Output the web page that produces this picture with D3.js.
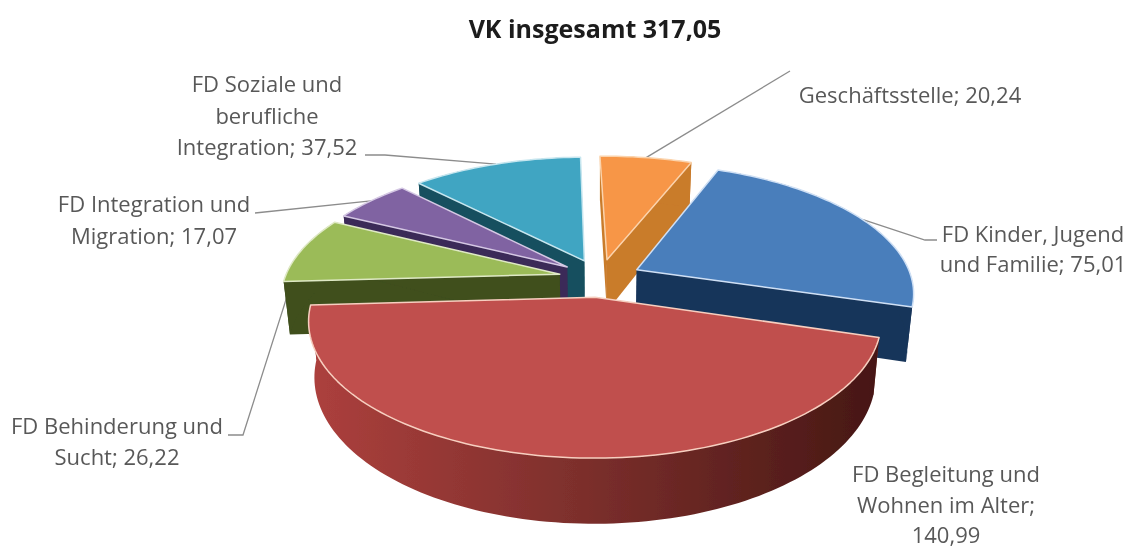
<!DOCTYPE html>
<html>
<head>
<meta charset="utf-8">
<script src="https://cdn.jsdelivr.net/npm/d3@7"></script>
<style>
  html, body { margin: 0; background: #fff; overflow: hidden; }
  text { font-family: "Open Sans", sans-serif; }
</style>
</head>
<body>
<script>
const w = 1132;
const h = 550;

// values
const titleText = "VK insgesamt 317,05";
const categories = [
  "Geschäftsstelle",
  "FD Kinder, Jugend und Familie",
  "FD Begleitung und Wohnen im Alter",
  "FD Behinderung und Sucht",
  "FD Integration und Migration",
  "FD Soziale und berufliche Integration",
];
const values = [20.24, 75.01, 140.99, 26.22, 17.07, 37.52];
const valueLabels = ["20,24", "75,01", "140,99", "26,22", "17,07", "37,52"];

const labelLines = [
  ["Geschäftsstelle; 20,24"],
  ["FD Kinder, Jugend", "und Familie; 75,01"],
  ["FD Begleitung und", "Wohnen im Alter;", "140,99"],
  ["FD Behinderung und", "Sucht; 26,22"],
  ["FD Integration und", "Migration; 17,07"],
  ["FD Soziale und", "berufliche", "Integration; 37,52"],
];

// label centre x, first baseline y, line step
const labelPos = [
  [910, 103, 31],
  [1033, 242, 30],
  [946, 482, 30.5],
  [117, 434, 31],
  [154, 212, 32],
  [267, 92, 31.5],
];
// leader elbows, from slice outwards (null = no leader)
const leaders = [
  [[790, 71]],
  [[925, 240], [937, 240]],
  null,
  [[243, 435], [228, 435]],
  [[255, 213]],
  [[385, 155], [365, 155]],
];

const topColors = ["#f79646", "#4a7ebb", "#c0504d", "#9bbb59", "#8064a2", "#3fa5c2"];
const sideColors = ["#c97b2c", "#19355a", "#7c2f2c", "#3f4f1e", "#3b2a58", "#17505e"];
const edgeColors = ["#fbd3ac", "#cfe0f5", "#f7cfc0", "#dfe9c5", "#d5c8e4", "#c7e6ef"];

// projection of the tilted, exploded disc
const ox = 600;
const oy = 278;
const rx = 275;
const ky = 126.5;
const persp = 0.168;
const depth = 53;
const explode = 0.15;
const startAngle = (-1.5 * Math.PI) / 180;

function project(X, Z, H) {
  const p = 1 / (1 + Z * persp);
  return [
    ox + rx * X * p * (1 - 0.02 * H),
    oy - ky * Z * p + depth * p * H,
  ];
}

const svg = d3.select("body").append("svg").attr("width", w).attr("height", h);

const defs = svg.append("defs");
const grad = defs.append("linearGradient").attr("id", "redWall");
grad.append("stop").attr("offset", "0%").attr("stop-color", "#ad403d");
grad.append("stop").attr("offset", "50%").attr("stop-color", "#7a2e2b");
grad.append("stop").attr("offset", "100%").attr("stop-color", "#461714");
defs.append("filter").attr("id", "soft")
  .append("feGaussianBlur").attr("stdDeviation", 0.45);

const pie = d3.pie().sort(null).value((d) => d)
  .startAngle(startAngle)
  .endAngle(startAngle + 2 * Math.PI);
const slices = pie(values).map((d, i) => {
  const mid = (d.startAngle + d.endAngle) / 2;
  return {
    i,
    a0: d.startAngle,
    a1: d.endAngle,
    mid,
    ex: explode * Math.sin(mid),
    ez: explode * Math.cos(mid),
  };
});

const line = d3.line();

function rim(s, a, H) {
  return project(s.ex + Math.sin(a), s.ez + Math.cos(a), H);
}
function apex(s, H) {
  return project(s.ex, s.ez, H);
}
function arcPts(s, a0, a1, H) {
  const n = Math.max(2, Math.ceil((a1 - a0) * 40));
  return d3.range(n + 1).map((k) => rim(s, a0 + ((a1 - a0) * k) / n, H));
}

// leaders go under the pie, they end behind the slices
const leaderG = svg.append("g").attr("filter", "url(#soft)");
slices.forEach((s) => {
  if (!leaders[s.i]) return;
  const pts = [rim(s, s.mid, 0)].concat(leaders[s.i]);
  leaderG.append("path")
    .attr("d", line(pts))
    .attr("fill", "none")
    .attr("stroke", "#8c8c8c")
    .attr("stroke-width", 1.3);
});

// back to front
const pieG = svg.append("g").attr("filter", "url(#soft)");
const order = slices.slice().sort((a, b) => Math.cos(b.mid) - Math.cos(a.mid));

order.forEach((s) => {
  const g = pieG.append("g");
  const side = sideColors[s.i];
  // radial faces
  [s.a0, s.a1].forEach((a) => {
    g.append("path")
      .attr("d", line([apex(s, 0), rim(s, a, 0), rim(s, a, 1), apex(s, 1)]) + "Z")
      .attr("fill", side);
  });
  // outer wall
  const wall = arcPts(s, s.a0, s.a1, 0).concat(arcPts(s, s.a0, s.a1, 1).reverse());
  g.append("path")
    .attr("d", line(wall) + "Z")
    .attr("fill", s.i === 2 ? "url(#redWall)" : side);
  // top surface
  const top = [apex(s, 0)].concat(arcPts(s, s.a0, s.a1, 0));
  g.append("path")
    .attr("d", line(top) + "Z")
    .attr("fill", topColors[s.i])
    .attr("stroke", edgeColors[s.i])
    .attr("stroke-width", 1.5)
    .attr("stroke-linejoin", "round");
});

// labels
const textG = svg.append("g").attr("filter", "url(#soft)");
textG.append("text")
  .attr("x", 595)
  .attr("y", 38)
  .attr("text-anchor", "middle")
  .attr("font-size", 25)
  .attr("font-weight", 700)
  .attr("fill", "#1a1a1a")
  .text(titleText);

slices.forEach((s) => {
  const t = textG.append("text")
    .attr("text-anchor", "middle")
    .attr("font-size", 22)
    .attr("fill", "#595959");
  labelLines[s.i].forEach((l, j) => {
    t.append("tspan")
      .attr("x", labelPos[s.i][0])
      .attr("y", labelPos[s.i][1] + j * labelPos[s.i][2])
      .text(l);
  });
});
</script>
</body>
</html>
